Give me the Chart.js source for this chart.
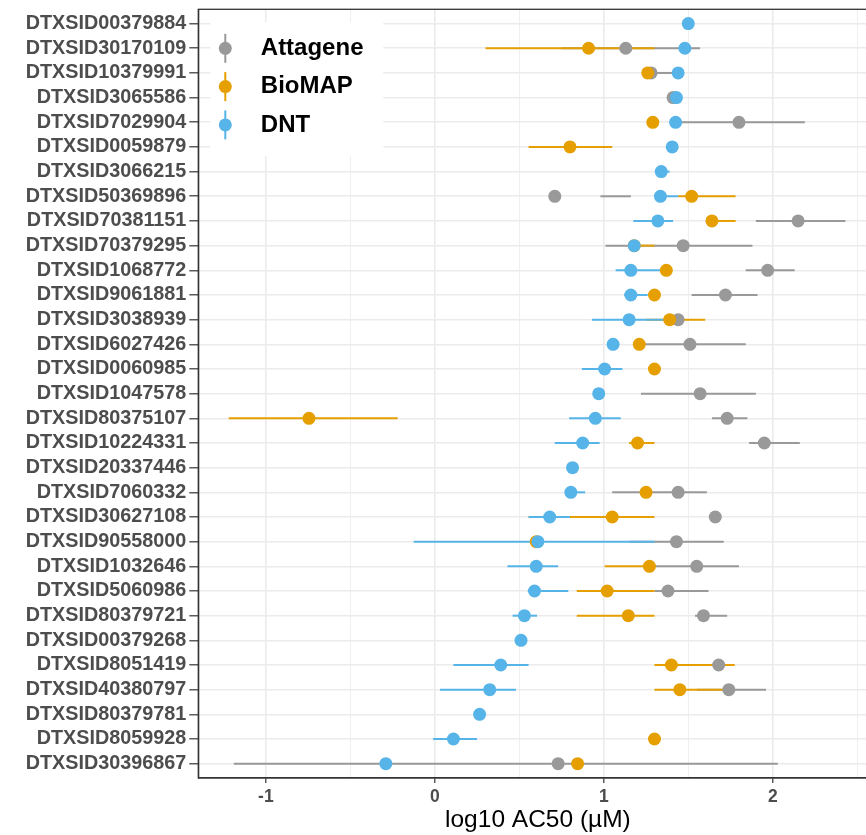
<!DOCTYPE html>
<html>
<head>
<meta charset="utf-8">
<script src="https://cdn.jsdelivr.net/npm/chart.js@4.4.1/dist/chart.umd.min.js"></script>
<style>
  html, body { margin: 0; padding: 0; background: #fff; overflow: hidden; }
  #wrap { width: 866px; height: 835px; overflow: hidden; }
</style>
</head>
<body>
<div id="wrap"><canvas id="chart" width="884" height="835"></canvas></div>
<script>
const categories = [
    "DTXSID00379884", "DTXSID30170109", "DTXSID10379991", "DTXSID3065586", "DTXSID7029904",
    "DTXSID0059879", "DTXSID3066215", "DTXSID50369896", "DTXSID70381151", "DTXSID70379295",
    "DTXSID1068772", "DTXSID9061881", "DTXSID3038939", "DTXSID6027426", "DTXSID0060985",
    "DTXSID1047578", "DTXSID80375107", "DTXSID10224331", "DTXSID20337446", "DTXSID7060332",
    "DTXSID30627108", "DTXSID90558000", "DTXSID1032646", "DTXSID5060986", "DTXSID80379721",
    "DTXSID00379268", "DTXSID8051419", "DTXSID40380797", "DTXSID80379781", "DTXSID8059928",
    "DTXSID30396867"
];

// log10 AC50 point estimates and interval ends, one entry per category (null = not tested)
const attagene = [null, 1.13, 1.28, 1.41, 1.80, null, null, 0.71, 2.15, 1.47,
    1.97, 1.72, 1.44, 1.51, null, 1.57, 1.73, 1.95, null, 1.44,
    1.66, 1.43, 1.55, 1.38, 1.59, null, 1.68, 1.74, null, null, 0.73];
const attageneLow = [null, 0.75, 1.26, null, 1.43, null, null, 0.98, 1.90, 1.01,
    1.84, 1.52, null, 1.24, null, 1.22, 1.64, 1.86, null, 1.05,
    null, 1.15, 1.30, 1.30, 1.54, null, null, 1.55, null, null, -1.19];
const attageneHigh = [null, 1.57, 1.41, null, 2.19, null, null, 1.16, 2.43, 1.88,
    2.13, 1.91, null, 1.84, null, 1.90, 1.85, 2.16, null, 1.61,
    null, 1.71, 1.80, 1.62, 1.73, null, null, 1.96, null, null, 2.03];

const biomap = [null, 0.91, 1.26, null, 1.29, 0.80, null, 1.52, 1.64, 1.18,
    1.37, 1.30, 1.39, 1.21, 1.30, null, -0.745, 1.20, null, 1.25,
    1.05, 0.60, 1.27, 1.02, 1.145, null, 1.40, 1.45, null, 1.30, 0.845];
const biomapLow = [null, 0.30, null, null, null, 0.555, null, 1.44, 1.62, 1.15,
    null, null, 1.25, null, null, null, -1.22, 1.15, null, null,
    0.555, null, 1.005, 0.84, 0.84, null, 1.30, 1.30, null, null, null];
const biomapHigh = [null, 1.30, null, null, null, 1.05, null, 1.78, 1.78, 1.30,
    null, null, 1.60, null, null, null, -0.22, 1.30, null, null,
    1.30, null, 1.30, 1.30, 1.30, null, 1.775, 1.71, null, null, null];

const dnt = [1.50, 1.48, 1.44, 1.43, 1.425, 1.405, 1.34, 1.335, 1.32, 1.18,
    1.16, 1.16, 1.15, 1.055, 1.005, 0.97, 0.95, 0.875, 0.815, 0.805,
    0.68, 0.61, 0.60, 0.59, 0.53, 0.51, 0.39, 0.325, 0.265, 0.11, -0.29];
const dntLow = [null, null, null, null, null, null, 1.33, 1.30, 1.175, null,
    1.07, 1.12, 0.93, null, 0.87, null, 0.795, 0.71, null, 0.78,
    0.555, -0.125, 0.43, 0.55, 0.46, null, 0.11, 0.03, null, -0.01, null];
const dntHigh = [null, null, null, null, null, null, 1.39, 1.44, 1.41, null,
    1.34, 1.26, 1.36, null, 1.11, null, 1.10, 0.975, null, 0.89,
    0.80, 1.30, 0.73, 0.79, 0.605, null, 0.555, 0.48, null, 0.25, null];

const xTicks = [-1, -0.5, 0, 0.5, 1, 1.5, 2, 2.5];

const fontFamily = '"Liberation Sans", Arial, sans-serif';

function buildPoints(values, lows, highs) {
    const points = [];
    values.forEach((v, i) => {
        if (v === null) return;
        points.push({ x: v, y: i, lo: lows[i], hi: highs[i] });
    });
    return points;
}

function buildDataset(label, color, order, values, lows, highs) {
    return {
        label: label,
        data: buildPoints(values, lows, highs),
        backgroundColor: color,
        borderWidth: 0,
        pointRadius: 6.5,
        pointHoverRadius: 6.5,
        order: order
    };
}

// white legend box with pointrange keys + horizontal intervals, drawn under the points
const rangePlugin = {
    id: 'ranges',
    beforeDatasetsDraw(chart) {
        const ctx = chart.ctx;
        const area = chart.chartArea;
        const xs = chart.scales.x;
        const ys = chart.scales.y;
        ctx.save();

        ctx.fillStyle = '#ffffff';
        ctx.fillRect(area.left + 12, area.top + 13, 173, 134);
        chart.data.datasets.forEach((ds, i) => {
            const kx = area.left + 27;
            const ky = area.top + 39 + i * 38.3;
            ctx.strokeStyle = ds.backgroundColor;
            ctx.lineWidth = 2;
            ctx.beginPath();
            ctx.moveTo(kx, ky - 14.5);
            ctx.lineTo(kx, ky + 14.5);
            ctx.stroke();
            ctx.fillStyle = ds.backgroundColor;
            ctx.beginPath();
            ctx.arc(kx, ky, 6.5, 0, Math.PI * 2);
            ctx.fill();
            ctx.fillStyle = '#000000';
            ctx.font = 'bold 24px ' + fontFamily;
            ctx.textBaseline = 'middle';
            ctx.textAlign = 'left';
            ctx.fillText(ds.label, area.left + 62.5, ky);
        });

        chart.data.datasets.forEach(ds => {
            ctx.strokeStyle = ds.backgroundColor;
            ctx.lineWidth = 2;
            ds.data.forEach(p => {
                if (p.lo === null || p.hi === null) return;
                const py = ys.getPixelForValue(p.y);
                ctx.beginPath();
                ctx.moveTo(xs.getPixelForValue(p.lo), py);
                ctx.lineTo(xs.getPixelForValue(p.hi), py);
                ctx.stroke();
            });
        });
        ctx.restore();
    },
    afterDraw(chart) {
        const ctx = chart.ctx;
        const area = chart.chartArea;
        ctx.save();
        ctx.strokeStyle = '#333333';
        ctx.lineWidth = 1.3;
        ctx.strokeRect(area.left, area.top, area.right - area.left, area.bottom - area.top);
        ctx.restore();
    }
};

new Chart(document.getElementById('chart'), {
    type: 'scatter',
    data: {
        datasets: [
            buildDataset('Attagene', '#999999', 3, attagene, attageneLow, attageneHigh),
            buildDataset('BioMAP', '#E69F00', 2, biomap, biomapLow, biomapHigh),
            buildDataset('DNT', '#56B4E9', 1, dnt, dntLow, dntHigh)
        ]
    },
    options: {
        responsive: false,
        animation: false,
        events: [],
        layout: { padding: { top: 9.3, right: 2.5, left: 0, bottom: 0 } },
        plugins: {
            legend: { display: false },
            tooltip: { enabled: false }
        },
        scales: {
            x: {
                type: 'linear',
                min: -1.40,
                max: 2.62,
                afterBuildTicks(scale) {
                    scale.ticks = xTicks.map(v => ({ value: v }));
                },
                afterFit(scale) {
                    scale.height = 57;
                    scale.paddingLeft = 0;
                    scale.paddingRight = 0;
                },
                ticks: {
                    autoSkip: false,
                    maxRotation: 0,
                    padding: 4,
                    color: '#4d4d4d',
                    font: { family: fontFamily, size: 17.5, weight: 'bold' },
                    callback: v => Number.isInteger(v) ? String(v) : ''
                },
                grid: {
                    color: '#ebebeb',
                    lineWidth: c => Number.isInteger(c.tick.value) ? 1.6 : 0.8,
                    tickColor: c => Number.isInteger(c.tick.value) ? '#333333' : 'rgba(0,0,0,0)',
                    tickLength: 5,
                    tickWidth: 1.2
                },
                border: { color: '#333333', width: 1.3 },
                title: {
                    display: true,
                    text: 'log10 AC50 (µM)',
                    color: '#000000',
                    font: { family: fontFamily, size: 24.5, weight: 'normal' },
                    padding: { top: 0, bottom: 0 }
                }
            },
            y: {
                type: 'linear',
                reverse: true,
                min: -0.58,
                max: 30.58,
                afterBuildTicks(scale) {
                    scale.ticks = categories.map((c, i) => ({ value: i }));
                },
                afterFit(scale) {
                    scale.width = 198.3;
                    scale.paddingTop = 0;
                    scale.paddingBottom = 0;
                },
                ticks: {
                    autoSkip: false,
                    padding: 3,
                    color: '#4d4d4d',
                    font: { family: fontFamily, size: 19.8, weight: 'bold' },
                    callback: v => categories[v]
                },
                grid: {
                    color: '#ebebeb',
                    lineWidth: 1.6,
                    tickColor: '#333333',
                    tickLength: 9,
                    tickWidth: 1.2
                },
                border: { color: '#333333', width: 1.3 }
            }
        }
    },
    plugins: [rangePlugin]
});
</script>
</body>
</html>
